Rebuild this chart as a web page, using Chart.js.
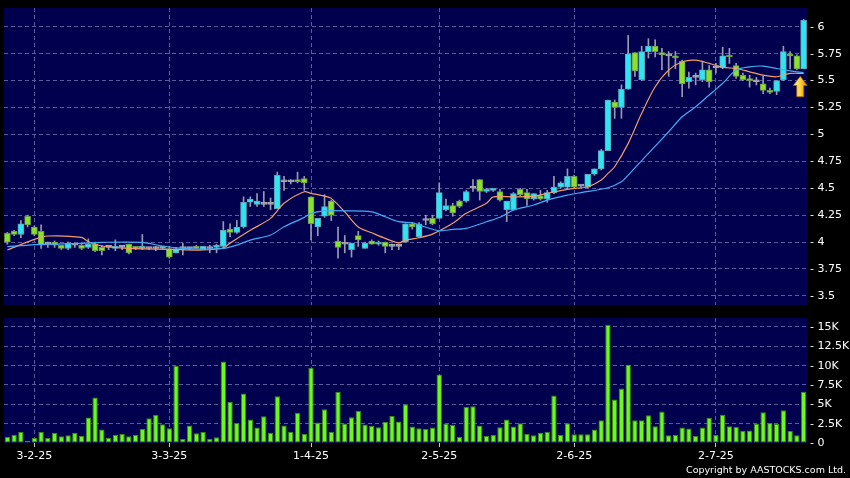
<!DOCTYPE html>
<html><head><meta charset="utf-8">
<script src="https://cdn.jsdelivr.net/npm/chart.js@4.4.1/dist/chart.umd.min.js"></script>
<style>
html,body{margin:0;padding:0;background:#000;}
#wrap{position:relative;width:850px;height:478px;background:#000;overflow:hidden;}
#c1{position:absolute;left:0;top:0;}
#c2{position:absolute;left:0;top:310px;}
#copy{position:absolute;right:4px;top:464px;color:#fff;font:9.5px "DejaVu Sans";white-space:nowrap;}
</style></head><body>
<div id="wrap">
<canvas id="c1" width="850" height="310"></canvas>
<canvas id="c2" width="850" height="168"></canvas>
<div id="copy">Copyright by AASTOCKS.com Ltd.</div>
</div>
<script>
const dates = ["23-1-25","24-1-25","27-1-25","28-1-25",
"3-2-25","4-2-25","5-2-25","6-2-25","7-2-25","10-2-25","11-2-25","12-2-25","13-2-25","14-2-25","17-2-25","18-2-25","19-2-25","20-2-25","21-2-25","24-2-25","25-2-25","26-2-25","27-2-25","28-2-25",
"3-3-25","4-3-25","5-3-25","6-3-25","7-3-25","10-3-25","11-3-25","12-3-25","13-3-25","14-3-25","17-3-25","18-3-25","19-3-25","20-3-25","21-3-25","24-3-25","25-3-25","26-3-25","27-3-25","28-3-25","31-3-25",
"1-4-25","2-4-25","3-4-25","7-4-25","8-4-25","9-4-25","10-4-25","11-4-25","14-4-25","15-4-25","16-4-25","17-4-25","22-4-25","23-4-25","24-4-25","25-4-25","28-4-25","29-4-25","30-4-25",
"2-5-25","6-5-25","7-5-25","8-5-25","9-5-25","12-5-25","13-5-25","14-5-25","15-5-25","16-5-25","19-5-25","20-5-25","21-5-25","22-5-25","23-5-25","26-5-25","27-5-25","28-5-25","29-5-25","30-5-25",
"2-6-25","3-6-25","4-6-25","5-6-25","6-6-25","9-6-25","10-6-25","11-6-25","12-6-25","13-6-25","16-6-25","17-6-25","18-6-25","19-6-25","20-6-25","23-6-25","24-6-25","25-6-25","26-6-25","27-6-25","30-6-25",
"2-7-25","3-7-25","4-7-25","7-7-25","8-7-25","9-7-25","10-7-25","11-7-25","14-7-25","15-7-25","16-7-25","17-7-25","18-7-25","21-7-25"];

const tickDates = ["3-2-25","3-3-25","1-4-25","2-5-25","2-6-25","2-7-25"];

const open = [4.08,4.10,4.07,4.24,4.14,4.10,3.98,4.00,3.97,3.94, 3.97,3.97,3.95,3.98,3.95,3.95,3.94,3.95,3.98,3.96,
 3.94,3.94,3.94,3.94,3.94,3.90,3.94,3.94,3.96,3.93, 3.94,3.95,3.96,4.12,4.09,4.14,4.37,4.35,4.35,4.35,
 4.31,4.56,4.56,4.58,4.59,4.42,4.14,4.24,4.38,4.01, 3.98,3.93,4.06,3.94,4.01,3.98,4.00,3.96,3.96,4.00,
 4.17,4.05,4.20,4.22,4.22,4.30,4.34,4.38,4.38,4.50, 4.58,4.47,4.48,4.47,4.30,4.30,4.49,4.46,4.40,
 4.43,4.40,4.46,4.51,4.51,4.61,4.52,4.51,4.63,4.68, 4.85,5.30,5.25,5.42,5.76,5.51,5.77,5.82,5.76,5.73,
 5.73,5.68,5.49,5.53,5.51,5.60,5.62,5.62,5.73,5.64, 5.55,5.51,5.49,5.47,5.41,5.40,5.51,5.75,5.73,5.61];
const high = [4.09,4.11,4.20,4.25,4.15,4.16,4.00,4.01,3.97,4.00, 3.98,3.98,4.03,4.00,3.97,3.96,4.02,3.96,3.98,3.96,
 4.07,3.95,3.96,3.96,3.96,3.95,3.99,3.95,3.97,3.96, 3.97,3.98,4.19,4.17,4.20,4.42,4.42,4.45,4.47,4.41,
 4.65,4.61,4.58,4.65,4.61,4.42,4.22,4.44,4.39,4.14, 4.06,3.99,4.10,4.00,4.02,4.01,4.00,3.98,3.98,4.17,
 4.18,4.18,4.25,4.25,4.55,4.40,4.36,4.39,4.48,4.58, 4.58,4.50,4.50,4.49,4.38,4.46,4.50,4.49,4.45,
 4.48,4.48,4.61,4.56,4.68,4.62,4.53,4.63,4.68,4.86, 5.32,5.32,5.46,5.92,5.76,5.82,5.89,5.88,5.80,5.77,
 5.77,5.69,5.58,5.57,5.68,5.64,5.66,5.81,5.80,5.66, 5.57,5.55,5.53,5.54,5.43,5.50,5.82,5.77,5.74,6.07];
const low = [3.98,4.06,4.04,4.14,4.06,3.94,3.95,3.95,3.93,3.93, 3.95,3.93,3.94,3.91,3.88,3.93,3.92,3.93,3.89,3.93,
 3.93,3.93,3.92,3.93,3.85,3.90,3.88,3.93,3.94,3.93, 3.90,3.90,3.94,4.05,4.08,4.13,4.33,4.33,4.33,4.30,
 4.31,4.48,4.54,4.55,4.48,4.02,4.06,4.23,4.20,3.85, 3.90,3.86,3.96,3.94,3.98,3.97,3.90,3.93,3.93,4.00,
 4.12,4.04,4.16,4.16,4.22,4.29,4.24,4.32,4.37,4.47, 4.39,4.46,4.47,4.38,4.19,4.30,4.43,4.34,4.39,
 4.39,4.37,4.45,4.50,4.49,4.50,4.51,4.50,4.62,4.67, 4.85,5.15,5.15,5.42,5.54,5.50,5.71,5.72,5.60,5.54,
 5.61,5.35,5.43,5.46,5.49,5.44,5.57,5.61,5.66,5.52, 5.50,5.44,5.46,5.38,5.38,5.37,5.50,5.61,5.60,5.61];
const close = [4.00,4.07,4.17,4.16,4.07,3.97,3.98,3.97,3.94,3.99, 3.97,3.94,3.98,3.92,3.92,3.95,3.96,3.95,3.90,3.94,
 3.96,3.94,3.94,3.96,3.86,3.94,3.94,3.94,3.94,3.96, 3.94,3.97,4.11,4.09,4.14,4.37,4.40,4.38,4.35,4.35,
 4.62,4.56,4.56,4.56,4.55,4.17,4.22,4.33,4.25,3.95, 3.98,3.99,4.02,3.99,3.98,4.00,3.96,3.96,3.96,4.17,
 4.14,4.17,4.20,4.17,4.46,4.34,4.27,4.33,4.47,4.50, 4.47,4.49,4.50,4.39,4.38,4.45,4.44,4.40,4.45,
 4.40,4.46,4.51,4.55,4.61,4.51,4.52,4.63,4.68,4.85, 5.32,5.25,5.42,5.75,5.59,5.77,5.82,5.77,5.74,5.73,
 5.71,5.47,5.53,5.53,5.60,5.49,5.62,5.73,5.72,5.54, 5.51,5.50,5.49,5.41,5.39,5.50,5.77,5.73,5.61,6.06];

const volume = [780,1080,1430,300,650,1430,650,1340,870,1000,1340,950,3290,5880,1730,690,1080,1170,870,1040,
 1820,3200,3630,2420,1900,9950,520,2250,1250,1430,560,740,10550,5320,2600,6400,3030,1990,3460,1340,
 6060,2250,1470,3900,1170,9730,2640,4370,1470,6620,2510,3330,4150,2380,2200,2030,2720,3500,2770,5020,
 2120,1900,1820,1990,8870,2510,2340,780,4670,4760,2250,910,1040,2030,3030,2120,2550,1170,1000,
 1340,1470,6150,1040,2560,1130,1130,1130,1730,2940,15280,5630,7050,10120,2940,2940,3590,2160,4070,1000,
 1040,1990,1860,910,1990,3250,1040,3640,2160,2080,1560,1600,2510,3990,2600,2470,4250,1560,1000,6630];

// moving averages: [bar index, value]
const maShort = [[0,3.926],[4,4.025],[6,4.056],[11,4.043],[12,4.003],[14,3.963],[18,3.941],[24,3.932],[29,3.926],[32,3.945],
 [33,3.99],[36,4.11],[39,4.22],[41,4.36],[44,4.467],[45,4.452],[47,4.427],[48,4.406],[50,4.28],[52,4.14],[54,4.086],[56,4.034],
 [58,3.993],[59,4.018],[61,4.04],[63,4.074],[66,4.174],[68,4.267],[71,4.36],[72,4.42],[75,4.42],[78,4.427],[80,4.452],[83,4.49],
 [86,4.514],[88,4.576],[89,4.638],[90,4.7],[92,4.917],[94,5.196],[96,5.443],[98,5.598],[100,5.675],[102,5.69],[104,5.66],
 [106,5.623],[108,5.613],[110,5.582],[112,5.551],[114,5.536],[116,5.567],[118,5.567]];
const maLong = [[0,3.957],[2,3.966],[5,3.978],[11,3.988],[14,3.997],[20,3.997],[23,3.963],[26,3.941],[29,3.935],[32,3.941],
 [34,3.972],[36,4.018],[39,4.065],[41,4.142],[44,4.229],[45,4.267],[47,4.29],[50,4.29],[54,4.28],[56,4.235],[58,4.189],[60,4.18],
 [61,4.158],[64,4.105],[66,4.118],[68,4.127],[71,4.189],[73,4.23],[75,4.297],[78,4.344],[80,4.39],[83,4.436],[85,4.46],[89,4.505],
 [91,4.56],[92,4.622],[95,4.824],[98,5.025],[100,5.164],[102,5.257],[104,5.366],[106,5.474],[108,5.598],[110,5.628],[112,5.635],
 [114,5.613],[116,5.591],[118,5.573]];

const priceTicks = [3.5,3.75,4,4.25,4.5,4.75,5,5.25,5.5,5.75,6];
const volTicks = [0,2500,5000,7500,10000,12500,15000];
const arrowMark = {from: 117, to: 118, tip: 5.54, base: 5.35};

const NAVY = '#00004f';
const GRID = '#5a5a9c';
const UP = '#2ee6f2', DOWN = '#8ae02a', FLAT = '#a8a8b0';
const FONT = {family: 'DejaVu Sans', size: 11};

const bgPlugin = {
  id: 'bg',
  beforeDraw(chart) {
    const {ctx, chartArea: a} = chart;
    ctx.save(); ctx.fillStyle = '#000'; ctx.fillRect(0,0,chart.width,chart.height);
    ctx.fillStyle = NAVY; ctx.fillRect(a.left, a.top, a.right - a.left, a.bottom - a.top); ctx.restore();
  }
};
const arrowPlugin = {
  id: 'arrow',
  afterDatasetsDraw(chart) {
    const x = (chart.scales.x.getPixelForValue(arrowMark.from) + chart.scales.x.getPixelForValue(arrowMark.to)) / 2;
    const yt = chart.scales.y.getPixelForValue(arrowMark.tip);
    const yb = chart.scales.y.getPixelForValue(arrowMark.base);
    const hh = (yb - yt) * 0.45, hw = 7, sw = 3.5;
    const ctx = chart.ctx;
    ctx.save();
    const g = ctx.createLinearGradient(x - hw, 0, x + hw, 0);
    g.addColorStop(0, '#fff3a0'); g.addColorStop(0.5, '#ffd23a'); g.addColorStop(1, '#d88a00');
    ctx.beginPath();
    ctx.moveTo(x, yt); ctx.lineTo(x + hw, yt + hh); ctx.lineTo(x + sw, yt + hh); ctx.lineTo(x + sw, yb);
    ctx.lineTo(x - sw, yb); ctx.lineTo(x - sw, yt + hh); ctx.lineTo(x - hw, yt + hh); ctx.closePath();
    ctx.fillStyle = g; ctx.fill();
    ctx.strokeStyle = '#a06000'; ctx.lineWidth = 0.8; ctx.stroke();
    ctx.restore();
  }
};

const isTick = (i) => tickDates.includes(dates[i]);
const noPad = (s) => { s.paddingTop = 0; s.paddingBottom = 0; s.paddingLeft = 0; s.paddingRight = 0; };

const bodyColors = open.map((o, i) => close[i] > o ? UP : (close[i] < o ? DOWN : FLAT));
const bodyBorders = open.map((o, i) => close[i] > o ? '#5aa6b8' : (close[i] < o ? '#6a9a48' : FLAT));

new Chart(document.getElementById('c1'), {
  type: 'bar',
  data: {
    labels: dates,
    datasets: [
      {label: 'wick', data: dates.map((d, i) => [low[i], high[i]]), backgroundColor: '#9a9aae',
       barThickness: 1, grouped: false, order: 3, borderWidth: 0},
      {label: 'body', data: dates.map((d, i) => [open[i], close[i]]), backgroundColor: bodyColors,
       borderColor: bodyBorders, borderWidth: 1, borderSkipped: false, barThickness: 6, minBarLength: 2,
       grouped: false, order: 2},
      {type: 'line', label: 'MA short', data: maShort.map(p => ({x: dates[p[0]], y: p[1]})),
       borderColor: '#f39c6c', borderWidth: 1.2, pointRadius: 0, tension: 0.3, spanGaps: true, order: 1},
      {type: 'line', label: 'MA long', data: maLong.map(p => ({x: dates[p[0]], y: p[1]})),
       borderColor: '#44acf4', borderWidth: 1.2, pointRadius: 0, tension: 0.3, spanGaps: true, order: 0}
    ]
  },
  options: {
    responsive: false, animation: false, devicePixelRatio: 1,
    layout: {padding: {top: 8, left: 4, right: 0, bottom: 5}},
    plugins: {legend: {display: false}, tooltip: {enabled: false}},
    scales: {
      x: {
        type: 'category', offset: true,
        grid: {offset: false, drawTicks: false, color: (c) => isTick(c.index) ? GRID : 'rgba(0,0,0,0)'},
        border: {display: false, dash: [4, 3]},
        ticks: {display: false, autoSkip: false},
        afterFit: (s) => { s.height = 0; noPad(s); }
      },
      y: {
        position: 'right', min: 3.415, max: 6.175,
        afterBuildTicks: (s) => { s.ticks = priceTicks.map(v => ({value: v})); },
        grid: {color: GRID, drawTicks: false},
        border: {display: false, dash: [4, 3]},
        ticks: {color: '#ffffff', font: FONT, padding: 3, callback: (v) => '- ' + (+v.toFixed(2))},
        afterFit: (s) => { s.width = 43; noPad(s); }
      }
    }
  },
  plugins: [bgPlugin, arrowPlugin]
});

new Chart(document.getElementById('c2'), {
  type: 'bar',
  data: {
    labels: dates,
    datasets: [{label: 'volume', data: volume, backgroundColor: '#6cfa1c', borderColor: '#3c8a10',
      borderWidth: 1, borderSkipped: false, categoryPercentage: 1, barPercentage: 0.8}]
  },
  options: {
    responsive: false, animation: false, devicePixelRatio: 1,
    layout: {padding: {top: 8, left: 4, right: 0, bottom: 0}},
    plugins: {legend: {display: false}, tooltip: {enabled: false}},
    scales: {
      x: {
        type: 'category', offset: true,
        grid: {offset: false, tickLength: 4,
          color: (c) => isTick(c.index) ? GRID : 'rgba(0,0,0,0)',
          tickColor: (c) => isTick(c.index) ? '#c8c8c8' : 'rgba(0,0,0,0)'},
        border: {display: false, dash: [4, 3]},
        ticks: {color: '#ffffff', font: FONT, autoSkip: false, maxRotation: 0, padding: 3,
          callback: (v, i) => isTick(i) ? dates[i] : ''},
        afterFit: (s) => { s.height = 35; noPad(s); }
      },
      y: {
        position: 'right', min: 0, max: 16160,
        afterBuildTicks: (s) => { s.ticks = volTicks.map(v => ({value: v})); },
        grid: {color: (c) => c.tick && c.tick.value === 0 ? 'rgba(0,0,0,0)' : GRID, drawTicks: false},
        border: {display: false, dash: [4, 3]},
        ticks: {color: '#ffffff', font: FONT, padding: 3, callback: (v) => '- ' + (v === 0 ? '0' : (v / 1000) + 'K')},
        afterFit: (s) => { s.width = 43; noPad(s); }
      }
    }
  },
  plugins: [bgPlugin]
});
</script>
</body></html>
